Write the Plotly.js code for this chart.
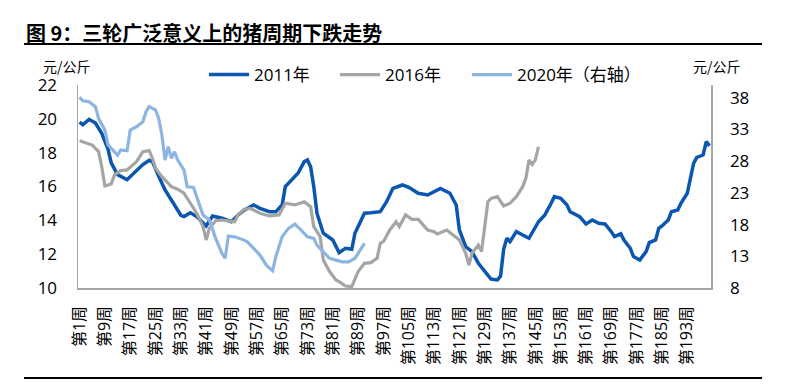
<!DOCTYPE html>
<html>
<head>
<meta charset="utf-8">
<script src="https://cdn.plot.ly/plotly-3.0.1.min.js"></script>
<style>html,body{margin:0;padding:0;background:#fff;}#chart{width:800px;height:385px;}</style>
</head>
<body>
<div id="chart"></div>
<script>
// Tick weeks (category positions shown on the x axis)
var tickWeeks = [1, 9, 17, 25, 33, 41, 49, 57, 65, 73, 81, 89, 97, 105, 113, 121, 129, 137, 145, 153, 161, 169, 177, 185, 193];
var tickLabels = tickWeeks.map(function (w) { return '第' + w + '周'; });

// 2011 cycle (left axis, 元/公斤)
var weeks2011 = [1, 2, 4, 6, 8, 10, 11, 13, 16, 18, 21, 23, 24, 26, 28, 30, 33, 34, 36, 38, 41, 43, 46, 49, 51, 53, 55, 56, 58, 61, 63, 65, 66, 68, 70, 72, 73, 74, 75, 76, 78, 81, 83, 85, 87, 88, 91, 93, 96, 98, 100, 103, 105, 108, 111, 115, 118, 120, 121, 123, 125, 127, 129, 131, 133, 134, 135, 136, 137, 139, 141, 143, 146, 148, 150, 151, 153, 155, 156, 157, 159, 161, 163, 165, 167, 169, 170, 172, 173, 175, 176, 178, 180, 181, 183, 184, 185, 187, 188, 190, 191, 193, 194, 195, 196, 198, 199, 200];
var values2011 = [19.8, 19.65, 19.97, 19.75, 19.14, 18.2, 17.4, 16.7, 16.4, 16.75, 17.3, 17.55, 17.47, 16.6, 15.8, 15.2, 14.3, 14.22, 14.45, 14.22, 13.67, 14.26, 14.12, 13.92, 14.3, 14.6, 14.8, 14.91, 14.71, 14.51, 14.51, 14.91, 15.99, 16.39, 16.78, 17.47, 17.57, 17.17, 15.99, 14.42, 13.24, 12.84, 12.09, 12.35, 12.29, 13.24, 14.42, 14.45, 14.51, 15.1, 15.89, 16.09, 15.95, 15.6, 15.5, 15.89, 15.6, 14.91, 13.43, 12.44, 12.15, 11.46, 10.97, 10.53, 10.48, 10.7, 12.3, 12.94, 12.74, 13.33, 13.13, 12.94, 13.92, 14.32, 15.01, 15.4, 15.3, 14.91, 14.51, 14.42, 14.22, 13.79, 14.02, 13.83, 13.79, 13.33, 13.04, 13.2, 12.84, 12.35, 11.86, 11.66, 12.15, 12.68, 12.84, 13.53, 13.67, 14.02, 14.51, 14.61, 15.01, 15.6, 16.39, 17.37, 17.72, 17.86, 18.65, 18.4];

// 2016 cycle (left axis, 元/公斤)
var weeks2016 = [1, 3, 5, 7, 8, 9, 11, 12, 14, 16, 18, 19, 21, 23, 24, 25, 27, 30, 32, 34, 36, 38, 40, 41, 42, 44, 46, 50, 51, 53, 55, 58, 61, 64, 66, 69, 72, 74, 75, 77, 78, 80, 82, 83, 85, 87, 89, 91, 93, 95, 96, 97, 99, 101, 102, 104, 106, 108, 111, 113, 114, 117, 119, 121, 123, 124, 125, 127, 128, 130, 131, 133, 135, 137, 139, 141, 142, 143, 144, 145, 146];
var values2016 = [18.71, 18.59, 18.45, 18.06, 17.17, 16.03, 16.15, 16.68, 16.94, 16.98, 17.27, 17.47, 18.06, 18.12, 17.67, 17.08, 16.58, 15.99, 15.84, 15.6, 15.01, 14.42, 13.63, 12.84, 13.53, 13.98, 14.02, 13.92, 14.32, 14.65, 14.7, 14.42, 14.26, 14.32, 15.01, 14.91, 15.1, 14.81, 13.63, 13.04, 11.66, 10.97, 10.48, 10.38, 10.12, 10.08, 10.97, 11.46, 11.5, 11.76, 12.64, 12.74, 13.43, 13.92, 13.63, 14.32, 14.06, 14.06, 13.43, 13.33, 13.2, 13.43, 13.13, 12.84, 12.05, 11.36, 12.05, 12.54, 12.15, 15.1, 15.3, 15.4, 14.85, 15.01, 15.4, 15.99, 16.49, 17.57, 17.3, 17.57, 18.35];

// 2020 cycle (right axis, 元/公斤)
var weeks2020 = [1, 2, 4, 6, 7, 9, 10, 11, 13, 14, 16, 17, 19, 21, 22, 23, 25, 26, 27, 28, 29, 30, 31, 32, 34, 35, 37, 38, 40, 42, 44, 46, 47, 48, 50, 53, 54, 56, 58, 60, 62, 63, 65, 67, 69, 71, 73, 75, 76, 78, 80, 82, 84, 86, 88, 90, 91];
var values2020 = [38.06, 37.52, 37.37, 36.58, 34.74, 32.9, 30.54, 30.01, 28.96, 29.75, 29.64, 32.9, 33.42, 34.21, 35.79, 36.58, 36.06, 34.74, 32.11, 28.17, 30.27, 28.44, 29.48, 28.17, 26.59, 23.96, 23.86, 22.38, 19.5, 18.71, 15.82, 13.45, 12.67, 16.18, 16.07, 15.55, 15.28, 14.24, 13.19, 11.61, 10.71, 12.92, 16.07, 17.4, 18.08, 17.13, 16.07, 15.82, 14.76, 13.71, 12.67, 12.4, 12.13, 12.13, 12.67, 14.24, 15.03];

var FONT = "'Open Sans', 'Noto Sans CJK SC', sans-serif";

var traces = [
  {x: weeks2011, y: values2011, name: '2011年', type: 'scatter', mode: 'lines',
   line: {color: '#0B56B0', width: 3.5}, yaxis: 'y', legend: 'legend'},
  {x: weeks2016, y: values2016, name: '2016年', type: 'scatter', mode: 'lines',
   line: {color: '#A5A5A5', width: 3.2}, yaxis: 'y', legend: 'legend2'},
  {x: weeks2020, y: values2020, name: '2020年（右轴）', type: 'scatter', mode: 'lines',
   line: {color: '#8DB5E2', width: 3.2}, yaxis: 'y2', legend: 'legend3'}
];

function legendAt(xp) {
  return {orientation: 'h', x: xp, y: 1.049, xanchor: 'left', yanchor: 'middle',
          font: {size: 17, family: FONT}, itemwidth: 40, bgcolor: 'rgba(0,0,0,0)'};
}

var axisLine = '#A6A6A6';
var layout = {
  width: 800, height: 385,
  margin: {l: 78, r: 89, t: 85, b: 97},
  paper_bgcolor: '#fff', plot_bgcolor: '#fff',
  font: {family: FONT, color: '#000', size: 16},
  showlegend: true,
  legend: legendAt(0.199),
  legend2: legendAt(0.406),
  legend3: legendAt(0.6145),
  xaxis: {range: [0.5, 200.5], tickmode: 'array', tickvals: tickWeeks, ticktext: tickLabels,
          tickangle: -90, showgrid: false, zeroline: false, showline: true, linecolor: axisLine,
          linewidth: 1.5, ticks: '', ticklabelstandoff: 10, tickfont: {size: 16, family: FONT}},
  yaxis: {range: [10, 22], tickvals: [10, 12, 14, 16, 18, 20, 22], showgrid: false, zeroline: false,
          showline: true, linecolor: axisLine, linewidth: 1.5, ticks: '', ticklabelstandoff: 16,
          tickfont: {size: 17, family: FONT}},
  yaxis2: {range: [8, 40], tickvals: [8, 13, 18, 23, 28, 33, 38], overlaying: 'y', side: 'right',
           showgrid: false, zeroline: false, showline: true, linecolor: axisLine, linewidth: 1.5,
           ticks: '', ticklabelstandoff: 14, tickfont: {size: 17, family: FONT}},
  annotations: [
    {text: '<b>图 9：三轮广泛意义上的猪周期下跌走势</b>', xref: 'paper', yref: 'paper',
     x: -0.0853, y: 1.261, xanchor: 'left', yanchor: 'middle', showarrow: false,
     font: {size: 20, family: "'Noto Sans CJK SC', sans-serif", color: '#000'}},
    {text: '元/公斤', xref: 'paper', yref: 'paper', x: -0.0174, y: 1.0936,
     xanchor: 'center', yanchor: 'middle', showarrow: false,
     font: {size: 14, family: "'Noto Sans CJK SC', sans-serif", color: '#000'}},
    {text: '元/公斤', xref: 'paper', yref: 'paper', x: 1.010, y: 1.0936,
     xanchor: 'center', yanchor: 'middle', showarrow: false,
     font: {size: 14, family: "'Noto Sans CJK SC', sans-serif", color: '#000'}}
  ],
  shapes: [
    {type: 'line', xref: 'paper', yref: 'paper', x0: -0.0853, x1: 1.0806, y0: 1.202, y1: 1.202,
     line: {color: '#000', width: 2}},
    {type: 'line', xref: 'paper', yref: 'paper', x0: -0.0853, x1: 1.0806, y0: -0.4433, y1: -0.4433,
     line: {color: '#000', width: 2}}
  ]
};

Plotly.newPlot('chart', traces, layout, {displayModeBar: false, staticPlot: true});
</script>
</body>
</html>
